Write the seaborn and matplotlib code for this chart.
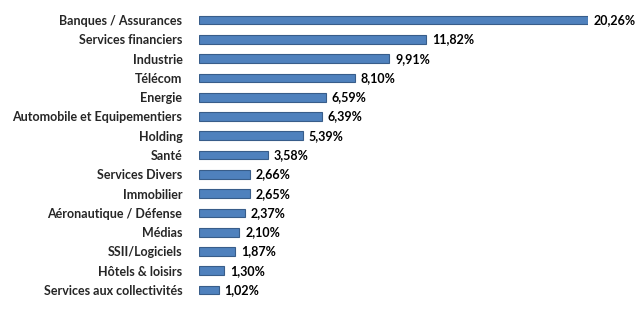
import matplotlib
matplotlib.use("Agg")
import matplotlib.pyplot as plt
import seaborn as sns
import pandas as pd

categories = ["Banques / Assurances", "Services financiers", "Industrie", "Télécom",
              "Energie", "Automobile et Equipementiers", "Holding", "Santé",
              "Services Divers", "Immobilier", "Aéronautique / Défense", "Médias",
              "SSII/Logiciels", "Hôtels & loisirs", "Services aux collectivités"]
values = [20.26, 11.82, 9.91, 8.10, 6.59, 6.39, 5.39, 3.58, 2.66, 2.65, 2.37, 2.10, 1.87, 1.30, 1.02]
labels = ["20,26%", "11,82%", "9,91%", "8,10%", "6,59%", "6,39%", "5,39%", "3,58%",
          "2,66%", "2,65%", "2,37%", "2,10%", "1,87%", "1,30%", "1,02%"]

df = pd.DataFrame({"cat": categories, "val": values})

sns.set_theme(style="white")
plt.rcParams['font.family'] = ['Lato', 'DejaVu Sans']

fig = plt.figure(figsize=(6.38, 3.24), dpi=100)
ax = fig.add_axes([0.312, 0.075, 0.610, 0.893])
sns.barplot(data=df, x="val", y="cat", orient="h", color="#4F81BD", saturation=1,
            width=0.45, edgecolor="#385D8A", linewidth=0.8, ax=ax)
ax.set_xlim(0, 20.26)
ax.set_ylim(14.5, -0.5)
for i, (v, t) in enumerate(zip(values, labels)):
    ax.text(v + 0.3, i, t, va="center", ha="left", fontsize=9, fontweight="bold",
            color="black", clip_on=False)
ax.set_xlabel("")
ax.set_ylabel("")
ax.set_xticks([])
ax.tick_params(axis="y", length=0, pad=12)
for lab in ax.get_yticklabels():
    lab.set_fontsize(9)
    lab.set_fontweight("bold")
for s in ax.spines.values():
    s.set_visible(False)
fig.savefig("out.png", dpi=100)
